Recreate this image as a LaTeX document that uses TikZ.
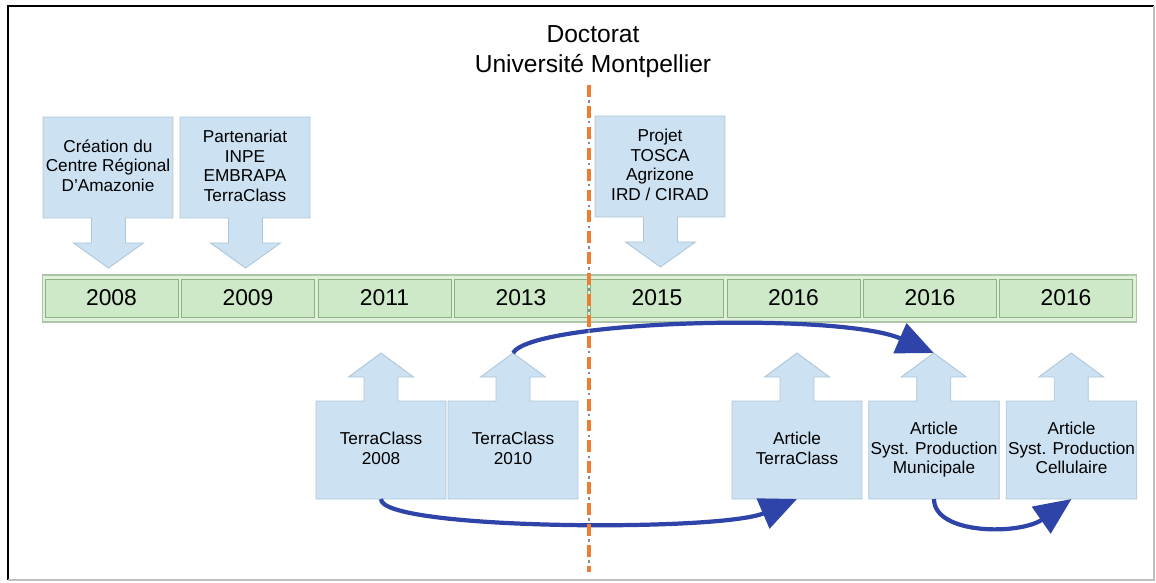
\documentclass[tikz,border=0pt]{standalone}
\usepackage{fontspec}
\setmainfont{Liberation Sans}
\usetikzlibrary{arrows.meta,backgrounds}
\definecolor{bubblefill}{RGB}{204,225,241}
\definecolor{bubbleedge}{RGB}{172,198,218}
\definecolor{cellfill}{RGB}{205,233,199}
\definecolor{celledge}{RGB}{140,178,130}
\definecolor{barfill}{RGB}{224,241,219}
\definecolor{baredge}{RGB}{172,198,166}
\definecolor{linkblue}{RGB}{47,68,168}
\definecolor{phdorange}{RGB}{237,125,49}
\tikzset{
  bubble/.style={fill=bubblefill,draw=bubbleedge,line width=0.5pt},
  bubbletext/.style={minimum width=2.6cm,minimum height=2.02cm,inner sep=1pt,outer sep=0pt,align=center,font=\fontsize{9.8}{11.1}\selectfont,execute at begin node={\rule{0pt}{9.5pt}},execute at end node={\rule[-2.1pt]{0pt}{2.1pt}}},
  lowtext/.style={bubbletext,minimum height=1.96cm},
  cell/.style={fill=cellfill,draw=celledge,line width=0.5pt,minimum width=2.66cm,minimum height=0.76cm,inner sep=0pt,font=\fontsize{13}{15}\selectfont},
  bar/.style={fill=barfill,draw=baredge,line width=0.6pt,minimum width=21.9cm,minimum height=0.94cm,inner sep=0pt},
  link/.style={draw=linkblue,line width=2.4pt,-{Triangle[length=0.74cm,width=0.64cm]}},
}
\begin{document}
\begin{tikzpicture}[x=0.02cm,y=-0.02cm]
	\useasboundingbox (0,0) rectangle (1156,582);
	% frame
	\draw[line width=1.4pt] (8,580)--(8,6)--(1154,6);
	\draw[line width=0.6pt,black!25] (1154,6)--(1154,580)--(8,580);
	\node[align=center,font=\fontsize{14}{17}\selectfont] (titre) at (593,52) {Doctorat\\Université Montpellier};
	% timeline
	\node[bar] (frise) at (589.5,298.5) {};
	\node[cell] (y2008) at (111.5,298) {2008};
	\node[cell] (y2009) at (248,298) {2009};
	\node[cell] (y2011) at (384.5,298) {2011};
	\node[cell] (y2013) at (521,298) {2013};
	\node[cell] (y2015) at (657,298) {2015};
	\node[cell] (y2016a) at (793.5,298) {2016};
	\node[cell] (y2016b) at (930,298) {2016};
	\node[cell] (y2016c) at (1066,298) {2016};
	% callouts above
	\node[bubbletext] (cre) at (108,167.5) {Création du\\Centre Régional\\D'Amazonie};
	\node[bubbletext] (par) at (245,167.5) {Partenariat\\INPE\\EMBRAPA\\TerraClass};
	\node[bubbletext] (tos) at (660,166.5) {Projet\\TOSCA\\Agrizone\\IRD / CIRAD};
	% callouts below
	\node[lowtext] (tc08) at (381,450) {TerraClass\\2008};
	\node[lowtext] (tc10) at (513,450) {TerraClass\\2010};
	\node[lowtext] (art) at (797,450) {Article\\TerraClass};
	\node[lowtext] (mun) at (934,450) {Article\\Syst. Production\\Municipale};
	\node[lowtext] (cel) at (1071.5,450) {Article\\Syst. Production\\Cellulaire};
	\begin{pgfonlayer}{background}
		\draw[bubble](cre.north west)--(cre.north east)--(cre.south east)--++(-47.5,0)--++(0,25)--++(18,0)--++(-35,25) coordinate (cre-tip)--++(-35,-25)--++(18,0)--++(0,-25)--(cre.south west)--cycle;
		\draw[bubble](par.north west)--(par.north east)--(par.south east)--++(-47.5,0)--++(0,25)--++(18,0)--++(-35,25) coordinate (par-tip)--++(-35,-25)--++(18,0)--++(0,-25)--(par.south west)--cycle;
		\draw[bubble](tos.north west)--(tos.north east)--(tos.south east)--++(-47.5,0)--++(0,25)--++(18,0)--++(-35,25) coordinate (tos-tip)--++(-35,-25)--++(18,0)--++(0,-25)--(tos.south west)--cycle;
		\draw[bubble](tc08.south west)--(tc08.north west)--++(48,0)--++(0,-24)--++(-15.5,0)--++(32.5,-24) coordinate (tc08-tip)--++(32.5,24)--++(-15.5,0)--++(0,24)--(tc08.north east)--(tc08.south east)--cycle;
		\draw[bubble](tc10.south west)--(tc10.north west)--++(48,0)--++(0,-24)--++(-15.5,0)--++(32.5,-24) coordinate (tc10-tip)--++(32.5,24)--++(-15.5,0)--++(0,24)--(tc10.north east)--(tc10.south east)--cycle;
		\draw[bubble](art.south west)--(art.north west)--++(48,0)--++(0,-24)--++(-15.5,0)--++(32.5,-24) coordinate (art-tip)--++(32.5,24)--++(-15.5,0)--++(0,24)--(art.north east)--(art.south east)--cycle;
		\draw[bubble](mun.south west)--(mun.north west)--++(48,0)--++(0,-24)--++(-15.5,0)--++(32.5,-24) coordinate (mun-tip)--++(32.5,24)--++(-15.5,0)--++(0,24)--(mun.north east)--(mun.south east)--cycle;
		\draw[bubble](cel.south west)--(cel.north west)--++(48,0)--++(0,-24)--++(-15.5,0)--++(32.5,-24) coordinate (cel-tip)--++(32.5,24)--++(-15.5,0)--++(0,24)--(cel.north east)--(cel.south east)--cycle;
	\end{pgfonlayer}
	% links between works
	\draw[link](tc08.south) .. controls (380,530) and (720,532) .. (art.south);
	\draw[link](mun.south) .. controls (934,535) and (1020,535) .. (cel.south);
	\draw[link](tc10-tip) .. controls (532,320) and (840,312) .. (mun-tip);
	% start of the PhD
	\coordinate (debut) at (589,85);
	\coordinate (fin) at (589,572);
	\draw[phdorange,line width=1.8pt,dash pattern=on 6.8pt off 5.1pt](debut)--(fin);
	\draw[black!45,line width=1.2pt,dash pattern=on 1.4pt off 10.5pt,dash phase=3.3pt](debut)--(fin);
\end{tikzpicture}
\end{document}
